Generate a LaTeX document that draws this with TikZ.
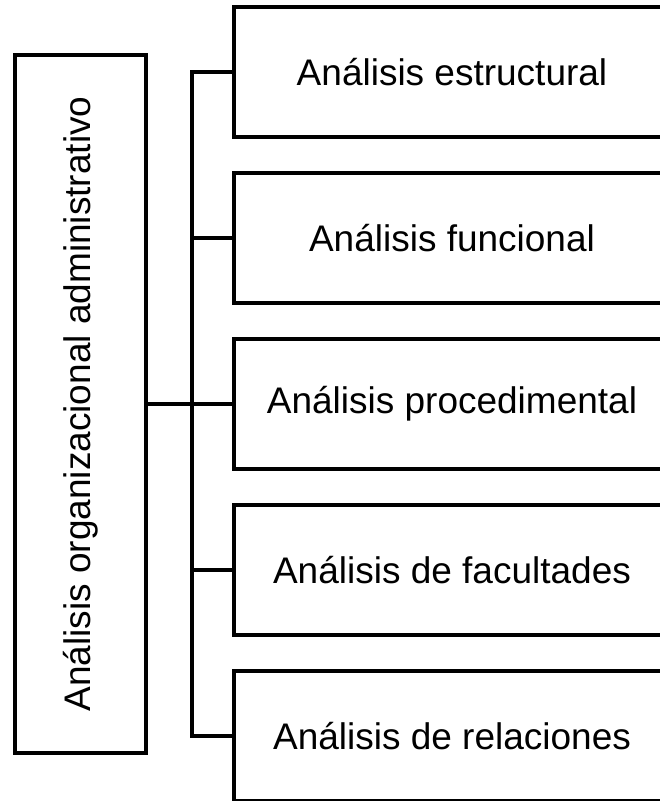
\documentclass[tikz,border=0pt]{standalone}
\usepackage{fontspec}
\setmainfont{Liberation Sans}
\begin{document}
\begin{tikzpicture}[x=1pt,y=-1pt,
  every node/.style={font=\fontsize{37}{44}\selectfont},
  box/.style={draw=black,line width=4pt,fill=white,inner sep=0pt,minimum width=436pt,minimum height=130pt},
  mainbox/.style={draw=black,line width=4pt,fill=white,inner sep=0pt,rotate=90,minimum width=698pt,minimum height=131pt},
  conn/.style={draw=black,line width=4pt}]
\path[use as bounding box,clip] (0,0) rectangle (660,801);
\fill[white] (0,0) rectangle (660,801);
\node[mainbox] (main) at (80.5,404) {Análisis organizacional administrativo};
\node[box] (b1) at (452,72) {Análisis estructural};
\node[box] (b2) at (452,238) {Análisis funcional};
\node[box] (b3) at (452,404) {Análisis procedimental};
\node[box] (b4) at (452,570) {Análisis de facultades};
\node[box] (b5) at (452,736) {Análisis de relaciones};
\coordinate (j) at (192,0);
\draw[conn] (b1.west) -- (b1.west -| j) -- (b5.west -| j) -- (b5.west);
\draw[conn] (b2.west) -- (b2.west -| j);
\draw[conn] (b4.west) -- (b4.west -| j);
\draw[conn] (main.south) -- (b3.west);
\end{tikzpicture}
\end{document}
